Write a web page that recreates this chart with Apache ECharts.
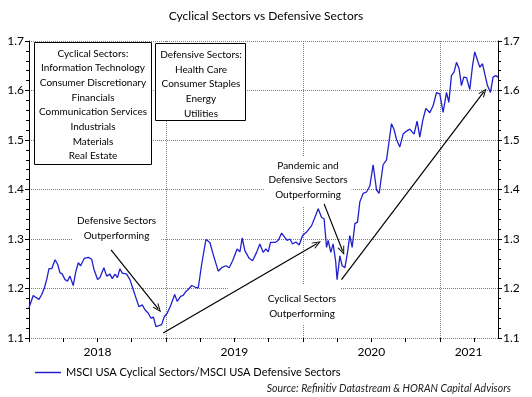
<!DOCTYPE html>
<html>
<head>
<meta charset="utf-8">
<script src="https://cdn.jsdelivr.net/npm/echarts@6/dist/echarts.min.js"></script>
<style>
  html, body { margin: 0; padding: 0; background: #fff; }
  #chart { width: 532px; height: 397px; }
</style>
</head>
<body>
<div id="chart"></div>
<script>
// decimal-year positions of the weekly readings
var dates = [
  2018.000, 2018.031, 2018.056, 2018.073, 2018.093, 2018.112, 2018.129, 2018.146, 2018.166, 2018.190,
  2018.209, 2018.226, 2018.243, 2018.263, 2018.282, 2018.299, 2018.323, 2018.341, 2018.360, 2018.377,
  2018.404, 2018.433, 2018.458, 2018.474, 2018.501, 2018.518, 2018.547, 2018.567, 2018.591, 2018.608,
  2018.628, 2018.646, 2018.664, 2018.681, 2018.713, 2018.737, 2018.761, 2018.781, 2018.803, 2018.827,
  2018.847, 2018.871, 2018.891, 2018.909, 2018.927, 2018.949, 2018.969, 2018.988,
  2019.009, 2019.034, 2019.064, 2019.082, 2019.107, 2019.126, 2019.146, 2019.163, 2019.188, 2019.212,
  2019.236, 2019.261, 2019.292, 2019.321, 2019.345, 2019.382, 2019.407, 2019.438, 2019.462, 2019.487,
  2019.520, 2019.540, 2019.557, 2019.577, 2019.608, 2019.633, 2019.662, 2019.686, 2019.710, 2019.730,
  2019.747, 2019.764, 2019.796, 2019.820, 2019.845, 2019.869, 2019.885, 2019.905, 2019.925, 2019.949,
  2019.973, 2019.998,
  2020.027, 2020.064, 2020.088, 2020.112, 2020.136, 2020.155, 2020.173, 2020.185, 2020.204, 2020.221,
  2020.239, 2020.250, 2020.270, 2020.287, 2020.307, 2020.326, 2020.343, 2020.360, 2020.380, 2020.399,
  2020.416, 2020.440, 2020.465, 2020.489, 2020.513, 2020.538, 2020.557, 2020.586, 2020.611, 2020.628,
  2020.647, 2020.666, 2020.684, 2020.708, 2020.732, 2020.757, 2020.781, 2020.812, 2020.834, 2020.854,
  2020.876, 2020.898, 2020.927, 2020.951, 2020.976,
  2021.000, 2021.024, 2021.049, 2021.066, 2021.085, 2021.104, 2021.122, 2021.141, 2021.158, 2021.175,
  2021.195, 2021.219, 2021.239, 2021.255, 2021.280, 2021.292, 2021.312, 2021.328, 2021.348, 2021.370,
  2021.389, 2021.409, 2021.425
];

var ratio = [
  1.161, 1.186, 1.181, 1.178, 1.188, 1.201, 1.218, 1.240, 1.240, 1.258,
  1.249, 1.232, 1.229, 1.218, 1.215, 1.225, 1.206, 1.233, 1.252, 1.246,
  1.261, 1.263, 1.259, 1.239, 1.218, 1.222, 1.242, 1.225, 1.229, 1.220,
  1.229, 1.222, 1.240, 1.231, 1.229, 1.218, 1.198, 1.181, 1.163, 1.167,
  1.157, 1.150, 1.140, 1.142, 1.123, 1.125, 1.127, 1.143,
  1.150, 1.165, 1.188, 1.174, 1.184, 1.186, 1.194, 1.198, 1.206, 1.203,
  1.201, 1.249, 1.299, 1.293, 1.269, 1.235, 1.242, 1.246, 1.242, 1.256,
  1.280, 1.274, 1.302, 1.276, 1.261, 1.256, 1.273, 1.290, 1.273, 1.280,
  1.274, 1.293, 1.293, 1.297, 1.312, 1.303, 1.297, 1.300, 1.290, 1.294,
  1.288, 1.307,
  1.314, 1.327, 1.344, 1.361, 1.344, 1.341, 1.283, 1.297, 1.273, 1.290,
  1.256, 1.218, 1.266, 1.246, 1.242, 1.273, 1.307, 1.283, 1.331, 1.334,
  1.375, 1.392, 1.395, 1.407, 1.450, 1.399, 1.392, 1.450, 1.460, 1.494,
  1.533, 1.521, 1.501, 1.486, 1.512, 1.518, 1.522, 1.512, 1.538, 1.506,
  1.540, 1.564, 1.555, 1.569, 1.596,
  1.593, 1.556, 1.596, 1.576, 1.630, 1.637, 1.657, 1.644, 1.610, 1.627,
  1.626, 1.602, 1.650, 1.678, 1.657, 1.647, 1.654, 1.634, 1.610, 1.596,
  1.627, 1.630, 1.627
];

var quarterTicks = [2018, 2018.25, 2018.5, 2018.75, 2019, 2019.25, 2019.5, 2019.75,
  2020, 2020.25, 2020.5, 2020.75, 2021, 2021.25];
var yearLabelAt = [2018.5, 2019.5, 2020.5, 2021.21];

// annotation arrows, [from, to] in data units
var arrows = [
  [[2018.599, 1.278], [2018.944, 1.159]],
  [[2018.980, 1.110], [2020.104, 1.291]],
  [[2020.155, 1.371], [2020.290, 1.276]],
  [[2020.282, 1.218], [2021.321, 1.597]]
];

var seriesName = 'MSCI USA Cyclical Sectors/MSCI USA Defensive Sectors';
var font = 'Lato';
var blue = '#2020cc';
var arrowHead = 'path://M0,10 L5,0 L10,10 L8.6,10 L5,3 L1.4,10 Z';

var chart = echarts.init(document.getElementById('chart'));

var gridLine = { show: true, lineStyle: { type: 'dotted', color: '#808080', width: 1 } };

var yBase = {
  type: 'value', min: 1.1, max: 1.7, interval: 0.1,
  axisLine: { show: true, lineStyle: { color: '#000', width: 1 } },
  axisTick: { show: true, length: 4, lineStyle: { color: '#000' } },
  minorTick: { show: true, splitNumber: 5, length: 3, lineStyle: { color: '#000' } },
  axisLabel: { formatter: function (v) { return v.toFixed(1); }, color: '#000', fontSize: 12, fontFamily: font, margin: 5 }
};

var option = {
  animation: false,
  backgroundColor: '#fff',
  textStyle: { fontFamily: font },
  title: [
    {
      text: 'Cyclical Sectors vs Defensive Sectors',
      left: 'center', top: 5,
      textStyle: { fontSize: 12, fontWeight: 'normal', color: '#000', fontFamily: font }
    },
    {
      text: 'Source: Refinitiv Datastream & HORAN Capital Advisors',
      right: 16, top: 378,
      textStyle: { fontSize: 10.5, fontStyle: 'italic', fontWeight: 'normal', color: '#222', fontFamily: font }
    }
  ],
  legend: {
    left: 30, top: 362,
    icon: 'rect', itemWidth: 26, itemHeight: 1.5,
    textStyle: { fontSize: 11, color: '#000', fontFamily: font },
    data: [seriesName]
  },
  grid: { left: 29, right: 34, top: 41, bottom: 59 },
  xAxis: [
    {
      type: 'value', min: 2018, max: 2021.425, interval: 1,
      axisLine: { show: false }, axisTick: { show: false }, axisLabel: { show: false },
      splitLine: gridLine
    },
    {
      type: 'value', min: 2018, max: 2021.425, position: 'bottom',
      axisLine: { show: false },
      axisTick: { show: true, customValues: quarterTicks, length: 4, lineStyle: { color: '#000' } },
      axisLabel: {
        customValues: yearLabelAt,
        formatter: function (v) { return String(Math.floor(v)); },
        color: '#000', fontSize: 12, fontFamily: font, margin: 8
      },
      splitLine: { show: false }
    }
  ],
  yAxis: [
    Object.assign({}, yBase, { position: 'left', splitLine: gridLine }),
    Object.assign({}, yBase, { position: 'right', splitLine: { show: false } })
  ],
  graphic: [
    {
      type: 'rect', z: 1,
      shape: { x: 34.5, y: 42.5, width: 117, height: 122 },
      style: { fill: '#fff', stroke: '#000', lineWidth: 1 }
    },
    {
      type: 'text', z: 1, x: 93, y: 46,
      style: {
        text: 'Cyclical Sectors:\nInformation Technology\nConsumer Discretionary\nFinancials\nCommunication Services\nIndustrials\nMaterials\nReal Estate',
        align: 'center', lineHeight: 14.7, fontSize: 10, fontFamily: font, fill: '#000'
      }
    },
    {
      type: 'rect', z: 1,
      shape: { x: 155.5, y: 43.5, width: 90, height: 77 },
      style: { fill: '#fff', stroke: '#000', lineWidth: 1 }
    },
    {
      type: 'text', z: 1, x: 201, y: 47,
      style: {
        text: 'Defensive Sectors:\nHealth Care\nConsumer Staples\nEnergy\nUtilities',
        align: 'center', lineHeight: 14.9, fontSize: 10, fontFamily: font, fill: '#000'
      }
    },
    {
      type: 'text', z: 1, x: 117, y: 211,
      style: {
        text: 'Defensive Sectors\nOutperforming',
        align: 'center', lineHeight: 15, fontSize: 10, fontFamily: font, fill: '#000',
        backgroundColor: '#fff', padding: [2, 5, 4, 4]
      }
    },
    {
      type: 'text', z: 1, x: 284, y: 285,
      style: {
        text: 'Cyclical Sectors\nOutperforming',
        align: 'center', lineHeight: 15, fontSize: 10, fontFamily: font, fill: '#000',
        backgroundColor: '#fff', padding: [6, 4, 4, 40]
      }
    },
    {
      type: 'text', z: 1, x: 308, y: 156,
      style: {
        text: 'Pandemic and\nDefensive Sectors\nOutperforming',
        align: 'center', lineHeight: 14.7, fontSize: 10, fontFamily: font, fill: '#000',
        backgroundColor: '#fff', padding: [2, 4, 4, 4]
      }
    }
  ],
  series: [
    {
      name: seriesName,
      type: 'line',
      xAxisIndex: 0, yAxisIndex: 0,
      showSymbol: false,
      lineStyle: { color: blue, width: 1.3 },
      itemStyle: { color: blue },
      z: 3,
      data: dates.map(function (d, i) { return [d, ratio[i]]; }),
      markLine: {
        silent: true,
        symbol: ['none', arrowHead],
        symbolSize: [7, 9],
        label: { show: false },
        lineStyle: { color: '#000', width: 1.2, type: 'solid' },
        emphasis: { disabled: true },
        data: arrows.map(function (a) {
          return [{ coord: a[0] }, { coord: a[1] }];
        })
      }
    }
  ]
};

option && chart.setOption(option);
</script>
</body>
</html>
